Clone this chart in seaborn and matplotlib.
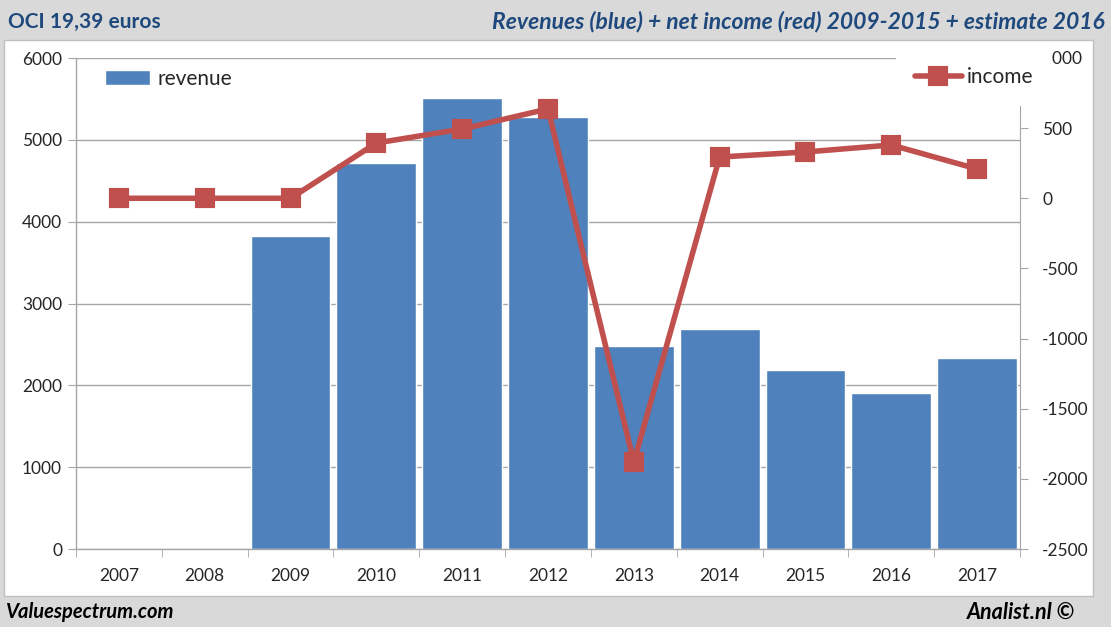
import matplotlib
matplotlib.use("Agg")
import matplotlib.pyplot as plt
import seaborn as sns
import pandas as pd
from matplotlib.patches import Rectangle

years = ["2007", "2008", "2009", "2010", "2011", "2012", "2013", "2014", "2015", "2016", "2017"]
revenue = [0, 0, 3825, 4717, 5511, 5279, 2481, 2688, 2187, 1906, 2334]
income = [0, 0, 0, 394, 494, 637, -1880, 294, 330, 380, 209]
left_ticks = [0, 1000, 2000, 3000, 4000, 5000, 6000]
right_ticks = [-2500, -2000, -1500, -1000, -500, 0, 500, 1000]

df = pd.DataFrame({"year": years, "revenue": revenue, "income": income})

sns.set_style("white")
plt.rcParams["font.family"] = ["Lato", "DejaVu Sans"]
plt.rcParams["axes.unicode_minus"] = False

W, H = 1111, 627
fig = plt.figure(figsize=(W / 100, H / 100), dpi=100)
fig.patch.set_facecolor("#d9d9d9")

# white chart box
fig.patches.append(Rectangle((4 / W, 1 - 596 / H), (1093 - 4) / W, (596 - 40) / H,
                             transform=fig.transFigure, facecolor="white",
                             edgecolor="#bfbfbf", linewidth=1, zorder=-5))

ax = fig.add_axes([76 / W, 1 - 549 / H, (1020 - 76) / W, (549 - 58) / H])
ax.set_facecolor("none")

blue = "#4f81bd"
red = "#c0504d"
grid = "#a6a6a6"

sns.barplot(data=df, x="year", y="revenue", color=blue, width=0.93,
            saturation=1, ax=ax, label="revenue", zorder=2)
ax.set_ylim(0, 6000)
ax.set_yticks(left_ticks)
ax.set_xlim(-0.5, len(years) - 0.5)
ax.yaxis.grid(True, color=grid, linewidth=1, zorder=0)
ax.set_axisbelow(True)
ax.set_xlabel("")
ax.set_ylabel("")
for s in ["top", "right"]:
    ax.spines[s].set_visible(False)
for s in ["left", "bottom"]:
    ax.spines[s].set_color(grid)
    ax.spines[s].set_linewidth(1)
ax.tick_params(axis="y", which="major", length=6, color=grid, labelsize=12.5,
               pad=4, direction="out", left=True)
ax.tick_params(axis="x", which="major", length=0, labelsize=12.5, pad=14)
ax.set_xticks([i - 0.5 for i in range(len(years) + 1)], minor=True)
ax.tick_params(axis="x", which="minor", length=6, color=grid, direction="out", bottom=True)

ax2 = ax.twinx()
sns.pointplot(data=df, x="year", y="income", color=red, markers="s",
              linestyles="-", ax=ax2, markersize=11, linewidth=4, label="income")
ax2.set_xlim(-0.5, len(years) - 0.5)
ax2.set_ylim(-2500, 1000)
ax2.set_yticks(right_ticks)
ax2.set_ylabel("")
ax2.set_xlabel("")
for s in ["top", "left", "bottom"]:
    ax2.spines[s].set_visible(False)
ax2.spines["right"].set_color(grid)
ax2.tick_params(axis="y", length=6, color=grid, labelsize=12.5, pad=10, direction="out", right=True)
ax2.grid(False)

# legends
h1, l1 = ax.get_legend_handles_labels()
leg1 = ax.legend(h1[:1], ["revenue"], loc="upper left", bbox_to_anchor=(0.022, 0.995),
                 frameon=False, fontsize=15, handlelength=2.16, handleheight=0.75,
                 handletextpad=0.34, borderaxespad=0)
h2, l2 = ax2.get_legend_handles_labels()
leg2 = ax2.legend(h2[:1], ["income"], loc="upper right", bbox_to_anchor=(1.034, 1.02),
                  frameon=True, fontsize=15, handlelength=2.26, handletextpad=0.24,
                  borderaxespad=0, borderpad=0.9, facecolor="white", edgecolor="none",
                  framealpha=1)
leg2.set_zorder(10)

# titles and footers
title_c = "#1f497d"
fig.text(8 / W, 1 - 22 / H, "OCI 19,39 euros", fontsize=15, fontweight="bold",
         color=title_c, ha="left", va="center")
fig.text(1105 / W, 1 - 22 / H, "Revenues (blue) + net income (red) 2009-2015 + estimate 2016",
         fontsize=16.5, fontweight="bold", fontstyle="italic", color=title_c,
         ha="right", va="center")
fig.text(5 / W, 1 - 612 / H, "Valuespectrum.com", fontsize=14.5, fontweight="bold",
         fontstyle="italic", color="black", ha="left", va="center")
fig.text(1075 / W, 1 - 612 / H, "Analist.nl ©", fontsize=15.5, fontweight="bold",
         fontstyle="italic", color="black", ha="right", va="center")

fig.savefig("out.png", dpi=100, facecolor=fig.get_facecolor())
